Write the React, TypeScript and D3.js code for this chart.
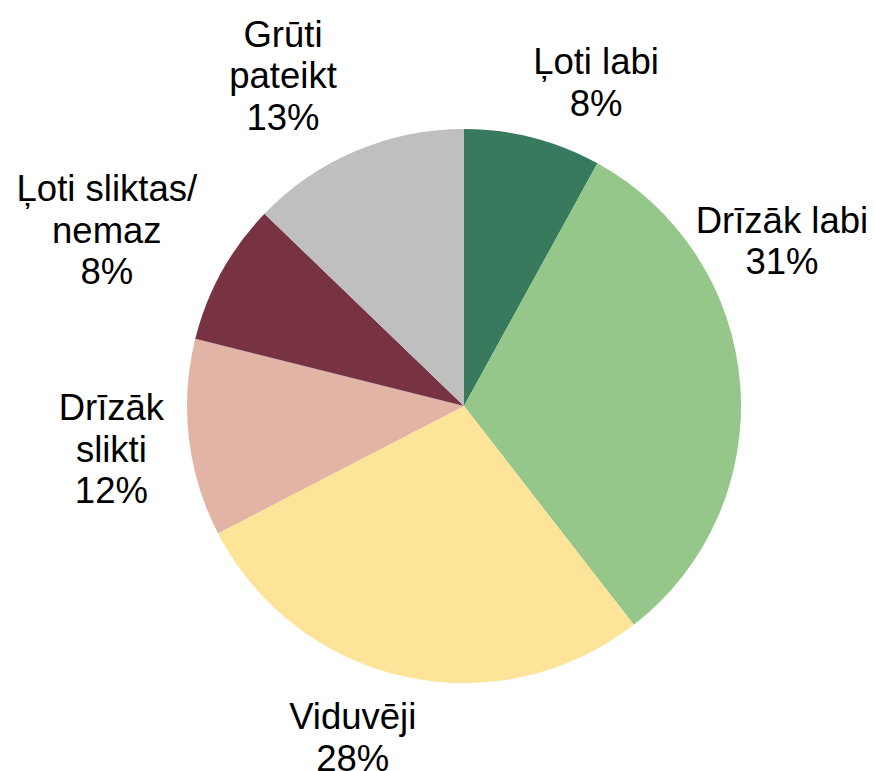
import * as d3 from "d3";
import { useEffect, useRef } from "react";

// answer categories, clockwise from 12 o'clock
const categories = [
  "Ļoti labi",
  "Drīzāk labi",
  "Viduvēji",
  "Drīzāk slikti",
  "Ļoti sliktas/ nemaz",
  "Grūti pateikt",
];
// label lines as shown on the chart
const labelLines = [
  ["Ļoti labi"],
  ["Drīzāk labi"],
  ["Viduvēji"],
  ["Drīzāk", "slikti"],
  ["Ļoti sliktas/", "nemaz"],
  ["Grūti", "pateikt"],
];
const shares = [8.0, 31.5, 27.9, 11.5, 8.3, 12.8];
const shareLabels = ["8%", "31%", "28%", "12%", "8%", "13%"];
const colors = ["#377A5D", "#95C68A", "#FEE499", "#E2B4A5", "#773341", "#BFBFBF"];

// label nudges off the outer centroid (best-fit placement)
const labelNudge: [number, number][] = [
  [45, 15],
  [-31, -138],
  [-36, -11],
  [-5, 2],
  [-51, -7],
  [-44, -9],
];

const width = 875,
  height = 771,
  cx = 464,
  cy = 406,
  radius = 277,
  labelRadius = 350,
  fontSize = 36.5,
  lineHeight = 41.5;

export default function App() {
  const ref = useRef<SVGGElement>(null);

  useEffect(() => {
    const g = d3.select(ref.current);
    g.selectAll("*").remove();

    const data = categories.map((c, i) => ({ name: c, value: shares[i], i }));
    const pie = d3
      .pie<any>()
      .value((d) => d.value)
      .sort(null);
    const arcs = pie(data);

    const arc = d3.arc<any>().innerRadius(0).outerRadius(radius);
    const labelArc = d3.arc<any>().innerRadius(labelRadius).outerRadius(labelRadius);

    g.selectAll("path")
      .data(arcs)
      .join("path")
      .attr("d", arc)
      .attr("fill", (d) => colors[d.data.i]);

    const labels = g
      .selectAll("text")
      .data(arcs)
      .join("text")
      .attr("text-anchor", "middle")
      .attr("font-family", "'Liberation Sans', Arial, sans-serif")
      .attr("font-size", fontSize)
      .attr("fill", "#000");

    labels.each(function (d) {
      const [x, y] = labelArc.centroid(d);
      const [nx, ny] = labelNudge[d.data.i];
      const lines = [...labelLines[d.data.i], shareLabels[d.data.i]];
      const top = y + ny - ((lines.length - 1) * lineHeight) / 2 + fontSize * 0.36;
      const t = d3.select(this);
      lines.forEach((l, k) => {
        t.append("tspan")
          .attr("x", x + nx)
          .attr("y", top + k * lineHeight)
          .text(l);
      });
    });
  }, []);

  return (
    <svg
      width={width}
      height={height}
      style={{ position: "absolute", left: 0, top: 0, background: "#fff" }}
    >
      <g ref={ref} transform={`translate(${cx},${cy})`} />
    </svg>
  );
}
